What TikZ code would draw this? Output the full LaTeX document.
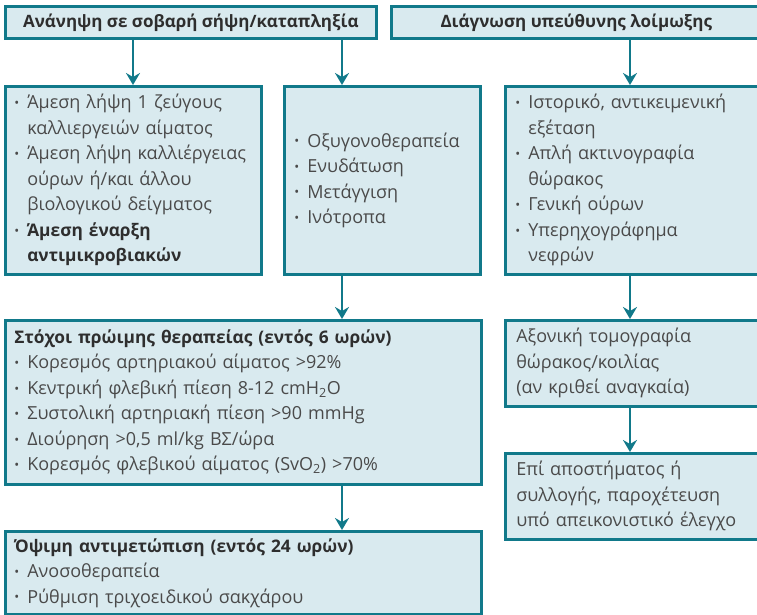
\documentclass[tikz,border=0pt]{standalone}
\usepackage{fontspec}
\setmainfont{Open Sans}
\usetikzlibrary{arrows.meta}
\definecolor{teal1}{HTML}{11798A}
\definecolor{boxfill}{HTML}{D9EAEF}
\definecolor{txt}{HTML}{4A4A4A}
\definecolor{htxt}{HTML}{2E2E2E}
\newcommand\bul{\makebox[13pt][l]{\raisebox{1.2pt}{\fontsize{13}{13}\selectfont •}}}
\newcommand\ind{\hspace*{13pt}}
\newcommand\hd[1]{{\fontsize{17.3}{25.5}\selectfont\bfseries\color{htxt}#1}}
\begin{document}
\begin{tikzpicture}[x=1pt,y=-1pt,
  box/.style={draw=teal1, line width=2.6pt, fill=boxfill, anchor=north west,
    inner ysep=0pt, align=left, text=txt, font=\fontsize{18}{25.5}\selectfont},
  hbox/.style={draw=teal1, line width=2.6pt, fill=boxfill, anchor=north west, inner sep=0pt,
    align=center, text=htxt, font=\fontsize{17}{20}\selectfont\bfseries},
  arr/.style={draw=teal1, line width=2.6pt, -{Stealth[length=12pt,width=14pt,inset=4pt]}}]
\useasboundingbox (0,0) rectangle (757,615);
% header boxes
\node[hbox, minimum width=371pt, minimum height=32pt] (hL) at (4,5) {Ανάνηψη σε σοβαρή σήψη/καταπληξία};
\node[hbox, minimum width=370pt, minimum height=32pt] (hR) at (390,5) {Διάγνωση υπεύθυνης λοίμωξης};
% boxes
\node[box, inner xsep=9pt, text width=238pt, minimum height=188pt] (A) at (4,85) {%
\bul Άμεση λήψη 1 ζεύγους\\
\ind καλλιεργειών αίματος\\
\bul Άμεση λήψη καλλιέργειας\\
\ind ούρων ή/και άλλου\\
\ind βιολογικού δείγματος\\
\bul\hd{Άμεση έναρξη}\\
\ind\hd{αντιμικροβιακών}};
\node[box, inner xsep=10pt, text width=176pt, minimum height=188pt] (B) at (283,85) {%
\bul Οξυγονοθεραπεία\\
\bul Ενυδάτωση\\
\bul Μετάγγιση\\
\bul Ινότροπα};
\node[box, inner xsep=10pt, text width=236pt, minimum height=188pt] (C) at (504,85) {%
\bul Ιστορικό, αντικειμενική\\
\ind εξέταση\\
\bul Απλή ακτινογραφία\\
\ind θώρακος\\
\bul Γενική ούρων\\
\bul Υπερηχογράφημα\\
\ind νεφρών};
\node[box, inner xsep=9pt, text width=458pt, minimum height=164pt] (D) at (4,319) {%
\hd{Στόχοι πρώιμης θεραπείας (εντός 6 ωρών)}\\
\bul Κορεσμός αρτηριακού αίματος >92\%\\
\bul Κεντρική φλεβική πίεση 8-12 cmH\textsubscript{2}O\\
\bul Συστολική αρτηριακή πίεση >90 mmHg\\
\bul Διούρηση >0,5 ml/kg ΒΣ/ώρα\\
\bul Κορεσμός φλεβικού αίματος (SvO\textsubscript{2}) >70\%};
\node[box, inner xsep=9pt, text width=458pt, minimum height=83pt] (E) at (4,530) {%
\hd{Όψιμη αντιμετώπιση (εντός 24 ωρών)}\\
\bul Ανοσοθεραπεία\\
\bul Ρύθμιση τριχοειδικού σακχάρου};
\node[box, inner xsep=11pt, text width=234pt, minimum height=86pt] (F) at (504,319) {%
Αξονική τομογραφία\\
θώρακος/κοιλίας\\
(αν κριθεί αναγκαία)};
\node[box, inner xsep=11pt, text width=234pt, minimum height=86pt] (G) at (504,452) {%
Επί αποστήματος ή\\
συλλογής, παροχέτευση\\
υπό απεικονιστικό έλεγχο};
% connector x positions
\coordinate (xa) at (133,0);
\coordinate (xb) at (342,0);
\coordinate (xc) at (630,0);
\draw[arr] (hL.south -| xa) -- (A.north -| xa);
\draw[arr] (hL.south -| xb) -- (B.north -| xb);
\draw[arr] (hR.south -| xc) -- (C.north -| xc);
\draw[arr] (B.south -| xb) -- (D.north -| xb);
\draw[arr] (D.south -| xb) -- (E.north -| xb);
\draw[arr] (C.south -| xc) -- (F.north -| xc);
\draw[arr] (F.south -| xc) -- (G.north -| xc);
\end{tikzpicture}
\end{document}
